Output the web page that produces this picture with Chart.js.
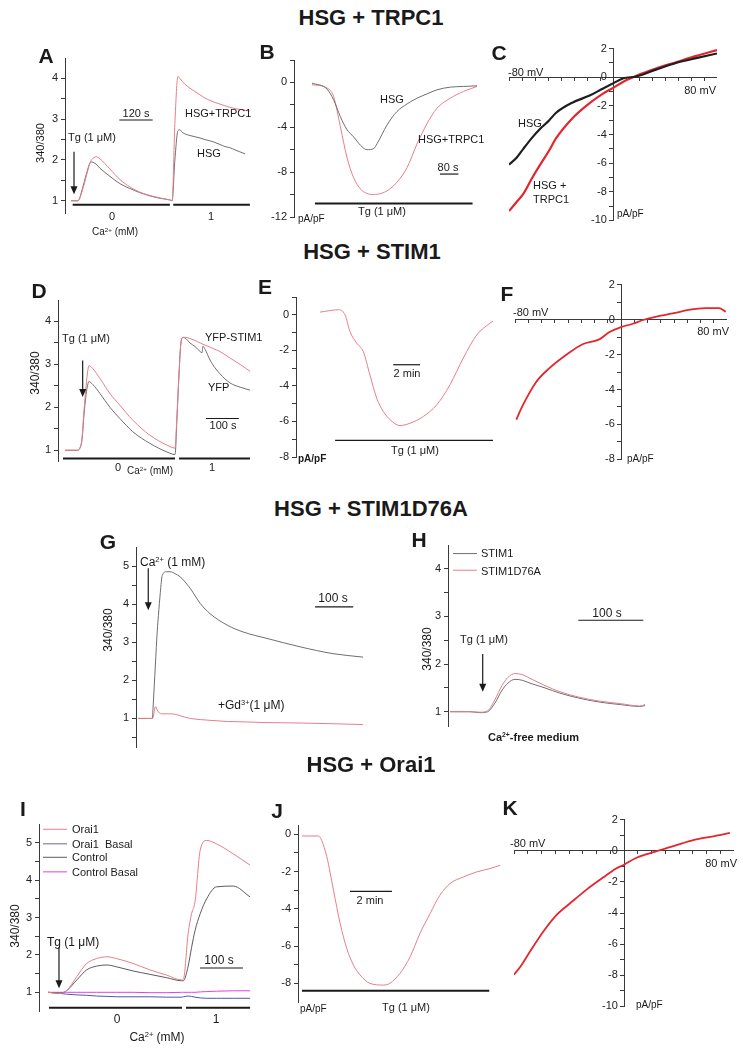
<!DOCTYPE html>
<html>
<head>
<meta charset="utf-8">
<script src="https://cdn.jsdelivr.net/npm/chart.js@4.4.0/dist/chart.umd.min.js"></script>
<style>
body { margin: 0; width: 743px; height: 1050px; position: relative; background: #fff; overflow: hidden; font-family: 'Liberation Sans', Arial, sans-serif; color: #1a1a1a; }
canvas { position: absolute; }
.lbl { position: absolute; white-space: nowrap; line-height: 1; }
.lbl sup { font-size: 0.62em; vertical-align: 0; position: relative; top: -0.55em; }
</style>
</head>
<body>
<script>
// ---- Data (time in s, ratio 340/380, current pA/pF, voltage mV) ----

// A: HSG + TRPC1, Fura-2 ratio
const tA = [0, 25, 43, 58, 68, 76, 83, 90, 104, 140, 176, 212, 248, 284, 320, 356, 364, 374, 385, 392, 400, 410, 428, 446, 464, 482, 500, 518, 536, 554, 572, 590, 608, 626, 644];
const trpc1A = [1.0, 1.0, 1.3, 1.68, 1.92, 2.02, 2.06, 2.08, 2.03, 1.78, 1.52, 1.34, 1.21, 1.13, 1.07, 1.02, 1.0, 2.9, 4.05, 4.0, 3.93, 3.86, 3.76, 3.68, 3.6, 3.52, 3.46, 3.41, 3.37, 3.33, 3.29, 3.26, 3.24, 3.22, 3.2];
const hsgA = [1.0, 1.0, 1.35, 1.72, 1.92, 1.95, 1.93, 1.9, 1.8, 1.6, 1.42, 1.3, 1.2, 1.12, 1.06, 1.02, 1.0, 2.0, 2.72, 2.74, 2.68, 2.64, 2.6, 2.57, 2.54, 2.5, 2.47, 2.43, 2.38, 2.33, 2.3, 2.25, 2.2, 2.15, null];

// B: current density vs time
const tB = [0, 67, 96, 126, 155, 185, 215, 244, 274, 289, 333, 377, 422, 466, 511, 555, 614, 673, 733];
const trpc1B = [-0.2, -0.5, -1.26, -3.96, -6.67, -8.5, -9.5, -9.9, -10.0, -9.98, -9.67, -8.9, -7.6, -5.5, -3.66, -2.3, -1.41, -0.8, -0.36];
const hsgB = [-0.06, -0.6, -1.56, -3.06, -4.2, -4.86, -5.6, -6.0, -5.9, -5.46, -3.8, -2.6, -1.92, -1.41, -1.02, -0.66, -0.42, -0.36, -0.3];

// C: I-V
const mvC = [-80, -74, -69, -62, -56, -49, -44, -31, -18, -8, 0, 8, 18, 33, 49, 64, 80];
const hsgC = [-6.1, -5.6, -5.0, -4.2, -3.6, -3.0, -2.5, -1.76, -1.28, -0.8, -0.43, -0.07, 0.05, 0.53, 1.01, 1.33, 1.66];
const trpc1C = [-9.35, -8.7, -8.14, -7.0, -6.1, -5.1, -4.29, -2.84, -1.81, -1.16, -0.75, -0.31, 0.1, 0.6, 1.06, 1.49, 1.9];

// D: HSG + STIM1, ratio
const tD = [0, 39, 48, 55, 61, 68, 74, 77, 90, 113, 145, 177, 219, 274, 329, 355, 361, 368, 374, 381, 390, 403, 419, 436, 442, 445, 452, 468, 484, 500, 532, 565, 597];
const stimD = [1.0, 1.0, 1.05, 1.3, 1.9, 2.5, 2.88, 2.97, 2.9, 2.67, 2.32, 2.05, 1.7, 1.35, 1.12, 1.05, 1.8, 2.8, 3.5, 3.63, 3.63, 3.6, 3.56, 3.5, 3.48, 3.47, 3.45, 3.4, 3.35, 3.3, 3.15, 3.0, 2.84];
const yfpD = [1.0, 1.0, 1.05, 1.25, 1.8, 2.3, 2.55, 2.6, 2.53, 2.32, 2.0, 1.74, 1.43, 1.16, 0.96, 0.9, 1.7, 2.8, 3.5, 3.63, 3.6, 3.5, 3.42, 3.3, 3.27, 3.42, 3.35, 3.1, 2.92, 2.78, 2.57, 2.47, 2.4];

// E: current vs time
const tE = [0, 81, 111, 133, 163, 192, 222, 252, 281, 311, 355, 400, 459, 518, 577, 636, 696, 755, 768];
const stimE = [0.15, 0.28, 0.0, -0.94, -1.6, -2.06, -3.4, -4.7, -5.44, -5.9, -6.23, -6.1, -5.72, -5.07, -3.94, -2.44, -1.13, -0.47, -0.35];

// F: I-V
const mvF = [-79, -75, -64, -54, -41, -29, -16, -9, 0, 9, 16, 26, 39, 51, 64, 74, 79];
const stimF = [-5.73, -5.04, -3.57, -2.78, -2.0, -1.41, -1.12, -0.73, -0.43, -0.24, -0.04, 0.16, 0.35, 0.55, 0.65, 0.65, 0.45];

// G: STIM1D76A, Ca2+ add-back with / without Gd3+
const tG = [0, 32, 37, 39, 45, 50, 53, 58, 63, 74, 84, 97, 110, 137, 163, 189, 234, 276, 339, 426, 513, 592];
const caG = [1.0, 1.0, 1.0, 1.3, 2.4, 3.3, 3.7, 4.3, 4.75, 4.85, 4.85, 4.8, 4.72, 4.41, 4.02, 3.75, 3.45, 3.27, 3.1, 2.88, 2.7, 2.61];
const gdG = [1.0, 1.0, 1.0, 1.02, 1.31, 1.22, 1.17, 1.13, 1.12, 1.12, 1.12, 1.11, 1.07, 1.0, 0.97, 0.95, 0.92, 0.91, 0.89, 0.88, 0.86, 0.84];

// H: Tg in Ca2+-free medium
const tH = [0, 31, 46, 58, 69, 80, 89, 100, 111, 123, 146, 169, 200, 231, 262, 292, 300];
const stim1H = [1.0, 1.0, 0.98, 1.0, 1.18, 1.45, 1.6, 1.68, 1.66, 1.6, 1.5, 1.39, 1.28, 1.2, 1.15, 1.11, 1.13];
const d76aH = [1.0, 1.0, 0.99, 1.02, 1.25, 1.55, 1.72, 1.8, 1.78, 1.7, 1.55, 1.42, 1.3, 1.22, 1.17, 1.12, 1.15];

// I: HSG + Orai1, ratio
const tI = [0, 28, 43, 67, 90, 113, 137, 160, 198, 237, 276, 311, 315, 326, 334, 342, 354, 369, 392, 431, 470];
const orai1I = [1.0, 0.97, 1.04, 1.42, 1.77, 1.9, 1.95, 1.9, 1.77, 1.6, 1.46, 1.33, 1.35, 2.57, 3.1, 3.42, 4.8, 5.06, 4.97, 4.7, 4.4];
const orai1BasalI = [1.0, 0.97, 0.95, 0.93, 0.92, 0.9, 0.89, 0.88, 0.88, 0.88, 0.87, 0.87, 0.88, 0.9, 0.89, 0.87, 0.85, 0.84, 0.84, 0.84, 0.84];
const controlI = [1.0, 0.98, 1.04, 1.33, 1.6, 1.7, 1.73, 1.68, 1.57, 1.48, 1.39, 1.31, 1.31, 1.7, 2.2, 2.65, 3.1, 3.5, 3.82, 3.84, 3.55];
const controlBasalI = [1.0, 1.0, 1.0, 1.0, 1.0, 1.0, 1.0, 1.0, 1.0, 0.99, 0.99, 1.0, 1.0, 1.0, 1.0, 1.0, 1.01, 1.02, 1.03, 1.04, 1.04];

// J: current vs time
const tJ = [0, 47, 56, 71, 90, 109, 128, 147, 166, 194, 232, 251, 280, 309, 337, 366, 394, 423, 461, 499, 537, 566];
const orai1J = [-0.09, -0.09, -0.32, -1.21, -3.0, -4.79, -6.13, -7.02, -7.55, -8.0, -8.09, -8.0, -7.46, -6.57, -5.32, -4.25, -3.27, -2.64, -2.29, -2.02, -1.84, -1.66];

// K: I-V
const mvK = [-80, -75, -68, -58, -49, -39, -27, -15, -6, 0, 8, 18, 25, 37, 51, 65, 77];
const orai1K = [-7.96, -7.41, -6.43, -5.11, -4.12, -3.36, -2.48, -1.71, -1.16, -0.9, -0.5, -0.18, 0, 0.33, 0.7, 0.92, 1.14];

// tick values (majors get labels, minors only marks)
const ratioTicks4 = [1, 2, 3, 4], ratioMinor4 = [1.5, 2.5, 3.5];
const ratioTicks5 = [1, 2, 3, 4, 5], ratioMinor5 = [1.5, 2.5, 3.5, 4.5];
const ticksB = [0, -4, -8, -12], minorB = [2, -2, -6, -10];
const ticksIV10 = [2, 0, -2, -4, -6, -8, -10], minorIV10 = [1, -1, -3, -5, -7, -9];
const ticksIV8 = [2, 0, -2, -4, -6, -8], minorIV8 = [1, -1, -3, -5, -7];
const ticksE = [0, -2, -4, -6, -8], minorE = [1, -1, -3, -5, -7];
const ticksJ = [0, -2, -4, -6, -8], minorJ = [-1, -3, -5, -7];
const mvTicks = [-80, -70, -60, -50, -40, -30, -20, -10, 0, 10, 20, 30, 40, 50, 60, 70, 80];

// ---- styling ----
Chart.defaults.font.family = "'Liberation Sans', Arial, sans-serif";
Chart.defaults.font.size = 11;
Chart.defaults.color = '#222';
const AXIS = '#3a3a3a';
const PINK = '#e57f88', GRAY = '#6e6e6e', RED = '#e3262d', BLACK = '#1e1e1e';
const YW = 30;

function series(xs, ys, color, width) {
    return {
        data: xs.map((x, i) => ({ x: x, y: ys[i] })).filter(p => p.y !== null),
        borderColor: color, borderWidth: width || 1, pointRadius: 0,
        cubicInterpolationMode: 'monotone', fill: false
    };
}

function decorPlugin(items) {
    return {
        id: 'decor',
        afterDatasetsDraw(chart) {
            const ctx = chart.ctx, x = chart.scales.x, y = chart.scales.y;
            ctx.save();
            items.forEach(it => {
                ctx.lineWidth = it.w || 1.2;
                ctx.strokeStyle = it.color || '#1a1a1a';
                ctx.fillStyle = it.color || '#1a1a1a';
                if (it.type === 'bar') {
                    const yy = y.getPixelForValue(it.y);
                    ctx.beginPath();
                    ctx.moveTo(x.getPixelForValue(it.x1), yy);
                    ctx.lineTo(x.getPixelForValue(it.x2), yy);
                    ctx.stroke();
                } else if (it.type === 'arrow') {
                    const xx = x.getPixelForValue(it.x), y1 = y.getPixelForValue(it.y1), y2 = y.getPixelForValue(it.y2);
                    ctx.beginPath(); ctx.moveTo(xx, y1); ctx.lineTo(xx, y2 - 6); ctx.stroke();
                    ctx.beginPath(); ctx.moveTo(xx - 3.5, y2 - 8); ctx.lineTo(xx + 3.5, y2 - 8); ctx.lineTo(xx, y2); ctx.closePath(); ctx.fill();
                }
            });
            ctx.restore();
        }
    };
}

function makeCanvas(id, area, m) {
    const c = document.createElement('canvas');
    c.id = id;
    const l = Math.round(area.l), t = Math.round(area.t);
    const w = Math.round(area.r) - l + m.l + m.r, h = Math.round(area.b) - t + m.t + m.b;
    c.width = w; c.height = h;
    c.style.left = (l - m.l) + 'px'; c.style.top = (t - m.t) + 'px';
    c.style.width = w + 'px'; c.style.height = h + 'px';
    document.body.appendChild(c);
    return c;
}

function yScale(min, max, majors, minors, extra) {
    return Object.assign({
        type: 'linear', min: min, max: max,
        afterBuildTicks: s => { s.ticks = majors.concat(minors).sort((a, b) => a - b).map(v => ({ value: v })); },
        ticks: { autoSkip: false, padding: 3, callback: v => majors.includes(v) ? String(v) : '' },
        grid: { drawOnChartArea: false, tickLength: 4, color: AXIS },
        border: { color: AXIS }
    }, extra || {});
}

function timePanel(id, area, xr, yr, datasets, decor) {
    const m = { l: 40, r: 12, t: 12, b: 12 };
    const c = makeCanvas(id, area, m);
    return new Chart(c, {
        type: 'line',
        data: { datasets: datasets },
        options: {
            responsive: false, animation: false, devicePixelRatio: 1,
            layout: { autoPadding: false, padding: { left: m.l - YW, right: m.r, top: m.t, bottom: m.b } },
            plugins: { legend: { display: false }, tooltip: { enabled: false } },
            scales: {
                x: { type: 'linear', display: false, min: xr[0], max: xr[1] },
                y: yScale(yr[0], yr[1], yr[2], yr[3], { afterFit: s => { s.width = YW; } })
            }
        },
        plugins: [decorPlugin(decor || [])]
    });
}

// the crossing x axis spans the whole canvas width, so no side margins here
function ivPanel(id, area, yr, datasets) {
    const m = { l: 0, r: 0, t: 12, b: 12 };
    const c = makeCanvas(id, area, m);
    const majors = yr[2];
    return new Chart(c, {
        type: 'line',
        data: { datasets: datasets },
        options: {
            responsive: false, animation: false, devicePixelRatio: 1,
            layout: { autoPadding: false, padding: m },
            plugins: { legend: { display: false }, tooltip: { enabled: false } },
            scales: {
                x: {
                    type: 'linear', min: -80, max: 80, position: { y: 0 },
                    afterBuildTicks: s => { s.ticks = mvTicks.map(v => ({ value: v })); },
                    ticks: { display: false },
                    grid: { drawOnChartArea: false, tickLength: 3, color: AXIS },
                    border: { color: AXIS }
                },
                y: yScale(yr[0], yr[1], majors, yr[3], {
                    position: { x: 0 },
                    ticks: { autoSkip: false, callback: v => majors.includes(v) ? v + '  ' : '' }
                })
            }
        }
    });
}

// ---- panels ----
timePanel('A', { l: 65, r: 252, t: 57.5, b: 213.3 }, [-21.6, 651.6], [0.7, 4.5, ratioTicks4, ratioMinor4],
    [series(tA, trpc1A, PINK), series(tA, hsgA, GRAY)],
    [{ type: 'arrow', x: 10.8, y1: 2.2, y2: 1.16 },
     { type: 'bar', x1: 174, x2: 294, y: 2.98 },
     { type: 'bar', x1: 6, x2: 356, y: 0.9, w: 2 },
     { type: 'bar', x1: 368, x2: 644, y: 0.9, w: 2 }]);

timePanel('B', { l: 294, r: 480, t: 60.4, b: 216.7 }, [-80, 746], [-12, 2, ticksB, minorB],
    [series(tB, hsgB, GRAY), series(tB, trpc1B, PINK)],
    [{ type: 'bar', x1: 13, x2: 713, y: -10.8, w: 2 },
     { type: 'bar', x1: 568, x2: 650, y: -8.17 }]);

ivPanel('C', { l: 509, r: 717, t: 50.7, b: 217.7 }, [-10, 2, ticksIV10, minorIV10],
    [series(mvC, hsgC, BLACK, 2.2), series(mvC, trpc1C, RED, 2.2)]);

timePanel('D', { l: 58, r: 252, t: 299.5, b: 460.75 }, [-22.6, 603.3], [0.75, 4.5, ratioTicks4, ratioMinor4],
    [series(tD, stimD, PINK), series(tD, yfpD, GRAY)],
    [{ type: 'arrow', x: 57, y1: 3.09, y2: 2.24 },
     { type: 'bar', x1: 455, x2: 561, y: 1.74 },
     { type: 'bar', x1: -6.5, x2: 355, y: 0.81, w: 2 },
     { type: 'bar', x1: 368, x2: 597, y: 0.81, w: 2 }]);

timePanel('E', { l: 296, r: 495, t: 297.2, b: 457.4 }, [-106.6, 777], [-8, 1, ticksE, minorE],
    [series(tE, stimE, PINK)],
    [{ type: 'bar', x1: 67, x2: 768, y: -7.07 },
     { type: 'bar', x1: 325, x2: 444, y: -2.81 }]);

ivPanel('F', { l: 515, r: 727, t: 286.7, b: 457 }, [-8, 2, ticksIV8, minorIV8],
    [series(mvF, stimF, RED, 1.8)]);

timePanel('G', { l: 135.7, r: 365, t: 547, b: 746.5 }, [-6, 597], [0.25, 5.5, ratioTicks5, [0.5].concat(ratioMinor5)],
    [series(tG, gdG, PINK), series(tG, caG, GRAY)],
    [{ type: 'arrow', x: 26.3, y1: 4.94, y2: 3.84 },
     { type: 'bar', x1: 465.5, x2: 566, y: 3.93 }]);

timePanel('H', { l: 448, r: 648, t: 545.2, b: 726.1 }, [-3.1, 304.6], [0.7, 4.5, ratioTicks4, ratioMinor4],
    [series(tH, d76aH, PINK), series(tH, stim1H, GRAY)],
    [{ type: 'arrow', x: 50.3, y1: 2.21, y2: 1.42 },
     { type: 'bar', x1: 197.4, x2: 297.4, y: 2.92 },
     { type: 'bar', x1: 4.6, x2: 41.5, y: 4.32, color: GRAY, w: 1 },
     { type: 'bar', x1: 4.6, x2: 41.5, y: 3.97, color: PINK, w: 1 }]);

timePanel('I', { l: 39, r: 252, t: 823.6, b: 1011 }, [-20.9, 474.5], [0.5, 5.5, ratioTicks5, ratioMinor5],
    [series(tI, orai1I, PINK), series(tI, controlI, '#5a5a5a'),
     series(tI, controlBasalI, '#e040e0'), series(tI, orai1BasalI, '#4f56b0')],
    [{ type: 'arrow', x: 25.6, y1: 2.21, y2: 1.11 },
     { type: 'bar', x1: 353.6, x2: 453.6, y: 1.65 },
     { type: 'bar', x1: 2.3, x2: 311.7, y: 0.59, w: 2 },
     { type: 'bar', x1: 321, x2: 470, y: 0.59, w: 2 },
     { type: 'bar', x1: -11.6, x2: 44.2, y: 5.36, color: PINK, w: 1 },
     { type: 'bar', x1: -11.6, x2: 44.2, y: 4.97, color: '#6a6a98', w: 1 },
     { type: 'bar', x1: -11.6, x2: 44.2, y: 4.61, color: '#5a5a5a', w: 1 },
     { type: 'bar', x1: -11.6, x2: 44.2, y: 4.22, color: '#e040e0', w: 1 }]);

timePanel('J', { l: 298, r: 502, t: 824.7, b: 1001.9 }, [-11.4, 571.4], [-9, 0.5, ticksJ, minorJ],
    [series(tJ, orai1J, PINK)],
    [{ type: 'bar', x1: 0, x2: 535, y: -8.4, w: 2 },
     { type: 'bar', x1: 137, x2: 257, y: -3.06 }]);

ivPanel('K', { l: 514, r: 734, t: 821.7, b: 1004.3 }, [-10, 2, ticksIV10, minorIV10],
    [series(mvK, orai1K, RED, 1.8)]);

// ---- text ----
function txt(html, x, y, o) {
    o = o || {};
    const d = document.createElement('div');
    d.className = 'lbl';
    d.innerHTML = html;
    d.style.left = x + 'px';
    d.style.top = y + 'px';
    d.style.fontSize = (o.size || 11) + 'px';
    if (o.bold) d.style.fontWeight = 'bold';
    const ax = o.align === 'left' ? '0' : (o.align === 'right' ? '-100%' : '-50%');
    d.style.transform = 'translate(' + ax + ', -50%)' + (o.rot ? ' rotate(-90deg)' : '');
    document.body.appendChild(d);
}
const L = { align: 'left' }, R = { align: 'right' };

// section titles
txt('HSG + TRPC1', 371, 18, { size: 22, bold: true });
txt('HSG + STIM1', 372, 252, { size: 22, bold: true });
txt('HSG + STIM1D76A', 371, 509, { size: 22, bold: true });
txt('HSG + Orai1', 371, 765, { size: 22, bold: true });

// panel letters
[['A', 46, 55], ['B', 267, 51], ['C', 499, 52], ['D', 39, 290], ['E', 265, 286], ['F', 507, 293],
 ['G', 108, 541], ['H', 419, 539], ['I', 23, 808], ['J', 277, 810], ['K', 510, 807]]
    .forEach(p => txt(p[0], p[1], p[2], { size: 21, bold: true }));

// y-axis titles
[[40, 143, 11], [35, 373, 12], [108, 630, 12], [427, 649, 12], [15, 926, 12]]
    .forEach(p => txt('340/380', p[0], p[1], { size: p[2], rot: true }));

// A
txt('Tg (1 μM)', 68, 137, L);
txt('120 s', 136, 113);
txt('HSG+TRPC1', 185, 113, L);
txt('HSG', 197, 153, L);
txt('0', 112, 216);
txt('1', 211, 216);
txt('Ca<sup>2+</sup> (mM)', 115, 232, { size: 10 });
// B
txt('HSG', 380, 99, L);
txt('HSG+TRPC1', 418, 139, L);
txt('80 s', 448, 167);
txt('Tg (1 μM)', 382, 211);
txt('pA/pF', 298, 219, { align: 'left', size: 10 });
// C
txt('-80 mV', 508, 72, L);
txt('80 mV', 716, 90, R);
txt('HSG', 518, 123, L);
txt('HSG +', 533, 185, L);
txt('TRPC1', 533, 199, L);
txt('pA/pF', 617, 214, { align: 'left', size: 10 });
// D
txt('Tg (1 μM)', 62, 338, L);
txt('YFP-STIM1', 205, 337, L);
txt('YFP', 208, 387, L);
txt('100 s', 223, 425);
txt('0', 118, 467);
txt('1', 212, 467);
txt('Ca<sup>2+</sup> (mM)', 150, 471, { size: 10 });
// E
txt('2 min', 407, 373);
txt('Tg (1 μM)', 415, 450);
txt('pA/pF', 298, 459, { align: 'left', size: 10, bold: true });
// F
txt('-80 mV', 513, 312, L);
txt('80 mV', 729, 331, R);
txt('pA/pF', 627, 459, { align: 'left', size: 10 });
// G
txt('Ca<sup>2+</sup> (1 mM)', 140, 562, { align: 'left', size: 12 });
txt('100 s', 333, 598, { size: 12 });
txt('+Gd<sup>3+</sup>(1 μM)', 218, 705, { align: 'left', size: 12 });
// H
txt('STIM1', 481, 553, L);
txt('STIM1D76A', 481, 571, L);
txt('100 s', 607, 613, { size: 12 });
txt('Tg (1 μM)', 460, 639, L);
txt('Ca<sup>2+</sup>-free medium', 488, 737, { align: 'left', bold: true, size: 11 });
// I
txt('Orai1', 72, 829, L);
txt('Orai1&nbsp; Basal', 72, 844, L);
txt('Control', 72, 857, L);
txt('Control Basal', 72, 872, L);
txt('Tg (1 μM)', 47, 942, { align: 'left', size: 12 });
txt('100 s', 219, 960, { size: 12 });
txt('0', 117, 1019, { size: 12 });
txt('1', 216, 1019, { size: 12 });
txt('Ca<sup>2+</sup> (mM)', 157, 1037, { size: 12 });
// J
txt('2 min', 370, 900);
txt('Tg (1 μM)', 406, 1007);
txt('pA/pF', 300, 1009, { align: 'left', size: 10 });
// K
txt('-80 mV', 510, 843, L);
txt('80 mV', 737, 863, R);
txt('pA/pF', 636, 1005, { align: 'left', size: 10 });
</script>
</body>
</html>
